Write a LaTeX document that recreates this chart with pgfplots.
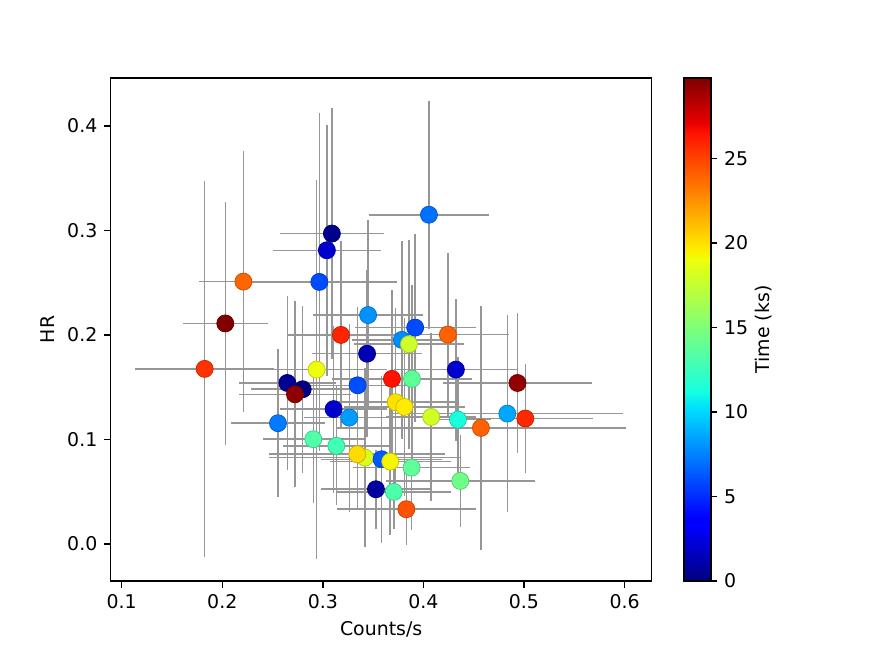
\documentclass[border=0pt]{standalone}
\usepackage{pgfplots}
\pgfplotsset{compat=1.18}
\usepackage{pgfplotstable}
\usepackage{fontspec}
\setmainfont{DejaVu Sans}

\pgfplotsset{colormap={mpljet}{
  rgb(0pt)=(0,0,0.5)
  rgb(11pt)=(0,0,1)
  rgb(12.5pt)=(0,0,1)
  rgb(34pt)=(0,0.86,1)
  rgb(35pt)=(0,0.9,0.968)
  rgb(37.5pt)=(0.081,1,0.887)
  rgb(64pt)=(0.935,1,0.032)
  rgb(65pt)=(0.968,0.963,0)
  rgb(66pt)=(1,0.926,0)
  rgb(89pt)=(1,0.074,0)
  rgb(91pt)=(0.909,0,0)
  rgb(100pt)=(0.5,0,0)
}}

\pgfplotstableread{
x y ex ey t
0.1825 0.1675 0.069 0.180 25.5
0.203 0.211 0.042 0.116 29.77
0.221 0.251 0.044 0.125 23.9
0.309 0.297 0.052 0.120 0.3
0.304 0.281 0.054 0.120 2.0
0.2965 0.2507 0.077 0.162 5.9
0.345 0.219 0.055 0.091 8.0
0.4055 0.315 0.060 0.109 7.0
0.318 0.200 0.053 0.090 26.0
0.344 0.182 0.055 0.080 1.3
0.2938 0.1668 0.070 0.181 19.0
0.2647 0.154 0.048 0.083 0.5
0.280 0.148 0.051 0.080 0.2
0.2723 0.1432 0.056 0.089 29.4
0.3346 0.1518 0.050 0.075 6.0
0.3107 0.129 0.053 0.080 2.0
0.3263 0.1209 0.045 0.090 8.3
0.2554 0.1155 0.047 0.071 7.3
0.2905 0.1002 0.050 0.061 13.3
0.3134 0.0938 0.053 0.057 12.8
0.3419 0.0826 0.095 0.086 18.3
0.3343 0.0858 0.0875 0.053 20.2
0.3584 0.081 0.060 0.080 6.3
0.367 0.0788 0.060 0.070 19.3
0.3528 0.0523 0.055 0.038 0.8
0.3706 0.0498 0.057 0.036 13.2
0.383 0.0332 0.069 0.034 24.5
0.3883 0.073 0.058 0.060 13.9
0.4367 0.0603 0.074 0.044 14.4
0.3918 0.207 0.060 0.090 5.9
0.3786 0.1952 0.050 0.095 7.8
0.3856 0.1911 0.055 0.100 17.8
0.4243 0.2003 0.061 0.078 24.0
0.4323 0.1668 0.062 0.068 2.0
0.4936 0.154 0.074 0.067 29.3
0.3687 0.1579 0.060 0.085 26.5
0.3886 0.1579 0.060 0.090 13.8
0.3724 0.1356 0.060 0.090 20.0
0.381 0.1311 0.060 0.085 19.7
0.4077 0.1215 0.045 0.080 18.0
0.4343 0.119 0.033 0.060 11.3
0.4834 0.1247 0.115 0.094 8.6
0.5013 0.120 0.067 0.052 25.8
0.4572 0.111 0.144 0.117 24.0
}\data

\begin{document}
\begin{tikzpicture}[x=0.5284pt,y=0.5284pt]
\path[use as bounding box] (0,0) rectangle (872,653);
\begin{axis}[
  at={(110,69)}, anchor=south west, scale only axis,
  width=285.9pt, height=265.8pt,
  xmin=0.089, xmax=0.627, ymin=-0.0354, ymax=0.446,
  xtick={0.1,0.2,0.3,0.4,0.5,0.6},
  ytick={0,0.1,0.2,0.3,0.4},
  /pgf/number format/assume math mode=true,
  xticklabel style={/pgf/number format/fixed,/pgf/number format/precision=1,/pgf/number format/fixed zerofill},
  yticklabel style={/pgf/number format/fixed,/pgf/number format/precision=1,/pgf/number format/fixed zerofill},
  scaled ticks=false,
  tick pos=left, tick align=outside,
  major tick length=3.5pt,
  tick style={line width=0.8pt, black},
  axis line style={line width=0.8pt},
  xlabel={Counts/s}, ylabel={HR},
  colormap name=mpljet,
  point meta min=0, point meta max=29.77,
  colorbar,
  colorbar style={
    at={(parent axis.north east)}, anchor=north west, xshift=8.5pt,
    width=14.2pt,
    ytick={0,5,10,15,20,25},
    /pgf/number format/assume math mode=true,
    ylabel={Time (ks)},
    yticklabel pos=right,
    ylabel near ticks,
    ylabel shift=-3pt,
    tick pos=right, tick align=outside,
    major tick length=3.5pt,
    tick style={line width=0.8pt, black},
    axis line style={line width=0.8pt},
  },
]
\addplot[draw=none, mark=none, forget plot,
  error bars/.cd, x dir=both, x explicit, y dir=both, y explicit,
  error mark=none,
  error bar style={line width=0.8pt, color={rgb,255:red,150;green,150;blue,150}}]
  table[x=x, y=y, x error=ex, y error=ey] {\data};
\addplot[scatter, only marks, mark=*, mark size=4.5pt, scatter src=explicit]
  table[x=x, y=y, meta=t] {\data};
\end{axis}
\end{tikzpicture}
\end{document}
